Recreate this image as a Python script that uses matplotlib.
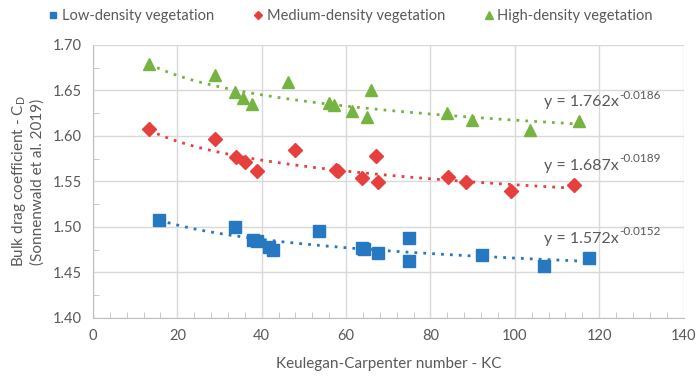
import numpy as np
import matplotlib
matplotlib.use("Agg")
import matplotlib.pyplot as plt
from matplotlib.ticker import MultipleLocator

plt.rcParams['font.family'] = ['Lato', 'DejaVu Sans']

# Keulegan-Carpenter number (x) and bulk drag coefficient (y) per series
low_kc = [15.7, 33.6, 38.0, 38.9, 41.7, 42.7, 53.5, 63.7, 64.2, 67.6, 75.0, 74.8, 92.1, 107.0, 117.5]
low_cd = [1.508, 1.500, 1.486, 1.485, 1.478, 1.475, 1.495, 1.477, 1.476, 1.471, 1.488, 1.463, 1.469, 1.457, 1.466]

med_kc = [13.3, 29.0, 33.9, 36.0, 38.8, 47.9, 57.5, 58.1, 63.7, 67.0, 67.5, 84.2, 88.5, 99.2, 114.0]
med_cd = [1.608, 1.597, 1.577, 1.571, 1.562, 1.585, 1.563, 1.562, 1.554, 1.578, 1.549, 1.555, 1.549, 1.539, 1.546]

high_kc = [13.3, 28.9, 33.6, 35.5, 37.6, 46.3, 56.0, 57.1, 61.3, 66.0, 65.0, 83.8, 89.9, 103.6, 115.2]
high_cd = [1.679, 1.667, 1.648, 1.642, 1.635, 1.659, 1.636, 1.634, 1.627, 1.651, 1.621, 1.625, 1.618, 1.607, 1.616]

# power trendline coefficients y = a * x^b (as printed on chart)
fit_a = [1.572, 1.687, 1.762]
fit_b = [-0.0152, -0.0189, -0.0186]
eq_y = [1.487, 1.567, 1.637]

labels = ['Low-density vegetation', 'Medium-density vegetation', 'High-density vegetation']
colors = ['#2678C0', '#E5403D', '#76B442']
markers = ['s', 'D', '^']
msizes = [8, 7, 9]

txt = '#595959'
fig = plt.figure(figsize=(6.99, 3.78), dpi=100)
ax = fig.add_axes([0.133, 0.159, 0.845, 0.722])

series = [(low_kc, low_cd), (med_kc, med_cd), (high_kc, high_cd)]
for i, (xs, ys) in enumerate(series):
    xs = np.array(xs)
    ax.plot(xs, ys, linestyle='none', marker=markers[i], ms=msizes[i],
            color=colors[i], label=labels[i], zorder=3)
    xx = np.linspace(xs.min(), xs.max(), 200)
    ax.plot(xx, fit_a[i] * xx ** fit_b[i], color=colors[i], lw=2,
            linestyle=(0, (1, 2.2)), zorder=2)

    # equation label: base text plus a small raised exponent
    t = ax.text(107, eq_y[i], 'y = %.3fx' % fit_a[i], color=txt, fontsize=11.5, va='center')
    ax.annotate('%.4f' % fit_b[i], xy=(1, 0.62), xycoords=t, color=txt, fontsize=8.5,
                va='bottom', ha='left')

ax.set_xlim(0, 140)
ax.set_ylim(1.40, 1.70)
ax.xaxis.set_major_locator(MultipleLocator(20))
ax.xaxis.set_minor_locator(MultipleLocator(4))
ax.yaxis.set_major_locator(MultipleLocator(0.05))
ax.yaxis.set_minor_locator(MultipleLocator(0.025))
ax.yaxis.set_major_formatter(plt.FormatStrFormatter('%.2f'))
ax.grid(True, which='major', color='#D9D9D9', lw=1)
ax.set_axisbelow(True)
for s in ['top', 'right']:
    ax.spines[s].set_visible(False)
for s in ['left', 'bottom']:
    ax.spines[s].set_color('#BFBFBF')
ax.tick_params(which='major', length=0, labelcolor=txt, labelsize=10.5, pad=8)
ax.tick_params(which='minor', direction='in', length=4, color='#BFBFBF')

ax.set_xlabel('Keulegan-Carpenter number - KC', color=txt, fontsize=11, labelpad=10)
ax.set_ylabel('Bulk drag coefficient - C$_\\mathrm{D}$\n(Sonnenwald et al. 2019)',
              color=txt, fontsize=11, labelpad=6)

leg = fig.legend(loc='upper center', bbox_to_anchor=(0.5, 1.01), ncol=3, frameon=False,
                 fontsize=10.5, handletextpad=0.1, columnspacing=2.5, markerscale=0.6,
                 handlelength=1)
for t in leg.get_texts():
    t.set_color(txt)

fig.savefig('out.png', dpi=100)
